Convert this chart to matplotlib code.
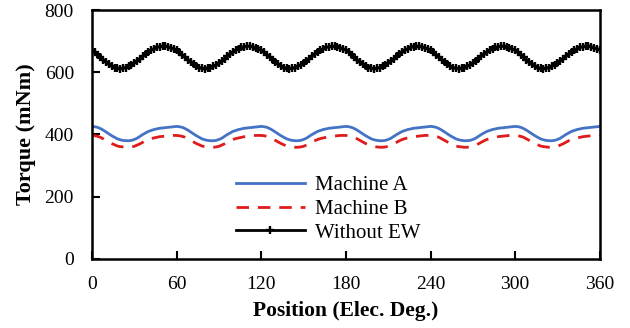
#!/usr/bin/env python3
"""Torque vs rotor position for two machines and the no-end-winding case."""
import numpy as np
import matplotlib

matplotlib.use("Agg")
import matplotlib.pyplot as plt

# rotor position, electrical degrees, 2 degree steps
position = np.arange(0, 362, 2)

# torque readings (mNm), one row per 60 degree cycle, last value at 360
without_ew = [
    671, 664, 656, 648, 640, 632, 625, 619, 615, 613, 612, 613, 615, 619, 624,
    630, 637, 644, 651, 658, 665, 671, 676, 680, 682, 683, 683, 682, 679, 675,
    671, 664, 656, 648, 640, 632, 625, 619, 615, 613, 612, 613, 615, 619, 624,
    630, 637, 644, 651, 658, 665, 671, 676, 680, 682, 683, 683, 682, 679, 675,
    671, 664, 656, 648, 640, 632, 625, 619, 615, 613, 612, 613, 615, 619, 624,
    630, 637, 644, 651, 658, 665, 671, 676, 680, 682, 683, 683, 682, 679, 675,
    671, 664, 656, 648, 640, 632, 625, 619, 615, 613, 612, 613, 615, 619, 624,
    630, 637, 644, 651, 658, 665, 671, 676, 680, 682, 683, 683, 682, 679, 675,
    671, 664, 656, 648, 640, 632, 625, 619, 615, 613, 612, 613, 615, 619, 624,
    630, 637, 644, 651, 658, 665, 671, 676, 680, 682, 683, 683, 682, 679, 675,
    671, 664, 656, 648, 640, 632, 625, 619, 615, 613, 612, 613, 615, 619, 624,
    630, 637, 644, 651, 658, 665, 671, 676, 680, 682, 683, 683, 682, 679, 675,
    671,
]
machine_a = [
    426, 425, 423, 419, 414, 408, 402, 396, 391, 386, 383, 381, 380, 380, 381,
    384, 388, 394, 400, 405, 410, 413, 416, 418, 420, 421, 422, 423, 424, 425,
    426, 425, 423, 419, 414, 408, 402, 396, 391, 386, 383, 381, 380, 380, 381,
    384, 388, 394, 400, 405, 410, 413, 416, 418, 420, 421, 422, 423, 424, 425,
    426, 425, 423, 419, 414, 408, 402, 396, 391, 386, 383, 381, 380, 380, 381,
    384, 388, 394, 400, 405, 410, 413, 416, 418, 420, 421, 422, 423, 424, 425,
    426, 425, 423, 419, 414, 408, 402, 396, 391, 386, 383, 381, 380, 380, 381,
    384, 388, 394, 400, 405, 410, 413, 416, 418, 420, 421, 422, 423, 424, 425,
    426, 425, 423, 419, 414, 408, 402, 396, 391, 386, 383, 381, 380, 380, 381,
    384, 388, 394, 400, 405, 410, 413, 416, 418, 420, 421, 422, 423, 424, 425,
    426, 425, 423, 419, 414, 408, 402, 396, 391, 386, 383, 381, 380, 380, 381,
    384, 388, 394, 400, 405, 410, 413, 416, 418, 420, 421, 422, 423, 424, 425,
    426,
]
machine_b = [
    397, 396, 394, 391, 386, 381, 376, 371, 367, 363, 361, 360, 359, 359, 360,
    362, 366, 370, 375, 380, 384, 387, 389, 391, 393, 394, 395, 396, 397, 397,
    397, 396, 394, 391, 386, 381, 376, 371, 367, 363, 361, 360, 359, 359, 360,
    362, 366, 370, 375, 380, 384, 387, 389, 391, 393, 394, 395, 396, 397, 397,
    397, 396, 394, 391, 386, 381, 376, 371, 367, 363, 361, 360, 359, 359, 360,
    362, 366, 370, 375, 380, 384, 387, 389, 391, 393, 394, 395, 396, 397, 397,
    397, 396, 394, 391, 386, 381, 376, 371, 367, 363, 361, 360, 359, 359, 360,
    362, 366, 370, 375, 380, 384, 387, 389, 391, 393, 394, 395, 396, 397, 397,
    397, 396, 394, 391, 386, 381, 376, 371, 367, 363, 361, 360, 359, 359, 360,
    362, 366, 370, 375, 380, 384, 387, 389, 391, 393, 394, 395, 396, 397, 397,
    397, 396, 394, 391, 386, 381, 376, 371, 367, 363, 361, 360, 359, 359, 360,
    362, 366, 370, 375, 380, 384, 387, 389, 391, 393, 394, 395, 396, 397, 397,
    397,
]

x_ticks = [0, 60, 120, 180, 240, 300, 360]
y_ticks = [0, 200, 400, 600, 800]

plt.rcParams["font.family"] = ["Liberation Serif", "DejaVu Serif"]

fig = plt.figure(figsize=(6.3, 3.28), dpi=100)
ax = fig.add_axes([0.146, 0.2104, 0.806, 0.7591])

ax.plot(position, machine_a, color="#4472C4", linewidth=2.0, label="Machine A")
ax.plot(position, machine_b, color="#E01B1B", linewidth=2.0,
        dashes=(4.5, 3.2), label="Machine B")
ax.plot(position, without_ew, color="black", linewidth=2.0, marker="+",
        markersize=6, markeredgewidth=1.7, label="Without EW")

ax.set_xlim(0, 360)
ax.set_ylim(0, 800)
ax.set_xticks(x_ticks)
ax.set_yticks(y_ticks)
ax.tick_params(direction="in", length=6, width=1.5, labelsize=14, colors="black")
ax.tick_params(axis="x", pad=12)
ax.tick_params(axis="y", pad=13)
for spine in ax.spines.values():
    spine.set_linewidth(1.8)
    spine.set_color("black")

ax.set_xlabel("Position (Elec. Deg.)", fontsize=15.5, fontweight="bold", labelpad=6)
ax.set_ylabel("Torque (mNm)", fontsize=16, fontweight="bold", labelpad=6)

ax.legend(loc="upper left", bbox_to_anchor=(0.267, 0.368), frameon=False,
          fontsize=15, handlelength=3.3, labelspacing=0.2, numpoints=1,
          handletextpad=0.5, borderaxespad=0)

fig.savefig("out.png", dpi=100)
